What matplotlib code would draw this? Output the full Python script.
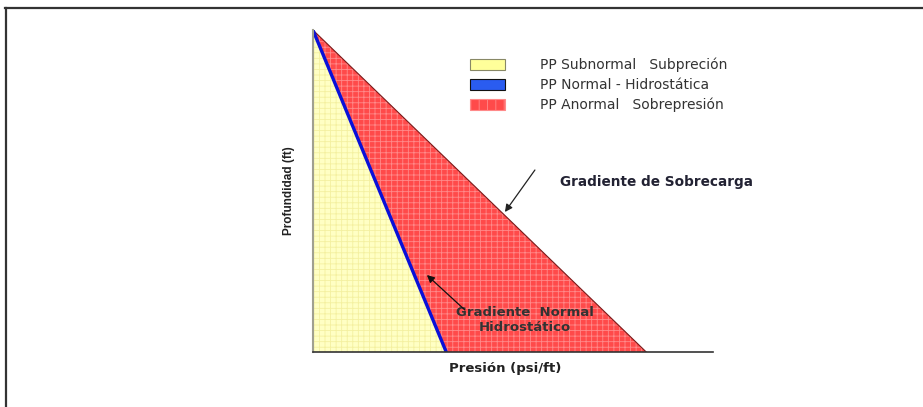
import numpy as np
import matplotlib.pyplot as plt
from matplotlib.patches import Patch
from matplotlib.lines import Line2D

plt.rcParams['font.family'] = ['DejaVu Sans']
plt.rcParams['hatch.linewidth'] = 0.6

# datos: profundidad (ft) y gradientes (psi/ft)
profundidad = np.array([0, 10000])
grad_hidrostatico = 0.40
grad_sobrecarga = 1.0
presion_max = 12000

p_hidro = profundidad * grad_hidrostatico
p_sobre = profundidad * grad_sobrecarga

leyenda = ['PP Subnormal   Subpreción', 'PP Normal - Hidrostática', 'PP Anormal   Sobrepresión']

fig = plt.figure(figsize=(9.23, 4.07), dpi=100)
ax = fig.add_axes([0.339, 0.1351, 0.4334, 0.7912])

# zona subnormal (amarilla)
ax.fill_betweenx(profundidad, 0, p_hidro, facecolor='#ffffc4', edgecolor='#f4f0a0',
                 hatch='+++', linewidth=0)
# zona anormal (roja)
ax.fill_betweenx(profundidad, p_hidro, p_sobre, facecolor='#ff4a4a', edgecolor='#ff8a8a',
                 hatch='+++', linewidth=0)
ax.plot(p_sobre, profundidad, color='#7a1a1a', lw=0.8)
ax.plot(p_hidro, profundidad, color='#0a10d8', lw=2.4, solid_capstyle='round')

ax.set_xlim(0, presion_max)
ax.set_ylim(profundidad[-1], 0)
ax.set_xticks([])
ax.set_yticks([])
for s in ['top', 'right']:
    ax.spines[s].set_visible(False)
ax.spines['left'].set_color('#a0a090')
ax.spines['left'].set_linewidth(1.5)
ax.spines['bottom'].set_color('#333333')
ax.spines['bottom'].set_linewidth(1.2)

ax.set_xlabel('Presión (psi/ft)', fontsize=9.5, fontweight='bold', color='#222222')
ax.xaxis.set_label_coords(0.48, -0.03, transform=ax.transAxes)
ax.xaxis.label.set_va('top')
ax.set_ylabel('Profundidad (ft)', fontsize=8.5, fontweight='bold', color='#222222',
              family='Liberation Sans')
ax.yaxis.set_label_coords(-0.045, 0.5)

handles = [Patch(facecolor='#ffff9a', edgecolor='#888866', lw=0.8),
           Patch(facecolor='#2a5cf0', edgecolor='#111111', lw=0.8),
           Patch(facecolor='#ff4a4a', edgecolor='#ff8a8a', hatch='||', lw=0.8)]
ax.legend(handles, leyenda, loc='upper left', bbox_to_anchor=(0.376, 0.935), frameon=False,
          fontsize=10, handlelength=2.5, handleheight=0.85, handletextpad=2.5,
          labelspacing=0.4, borderpad=0, labelcolor='#333333')

ax.text(7410, 4720, 'Gradiente de Sobrecarga', fontsize=9.8, fontweight='bold',
        color='#222233', va='center')
ax.annotate('', xy=(5760, 5652), xytext=(6660, 4348),
            arrowprops=dict(arrowstyle='-|>', color='#222222', lw=0.9,
                            shrinkA=0, shrinkB=0, mutation_scale=11))
ax.text(6360, 9006, 'Gradiente  Normal\nHidrostático', fontsize=9.5, fontweight='bold',
        color='#333333', ha='center', va='center', linespacing=1.15)
ax.annotate('', xy=(3420, 7609), xytext=(4560, 8696),
            arrowprops=dict(arrowstyle='-|>', color='#111111', lw=0.9,
                            shrinkA=0, shrinkB=0, mutation_scale=11))

# marco de la figura
fig.add_artist(Line2D([0.005, 1.0], [0.98, 0.98], transform=fig.transFigure,
                      color='#333333', lw=1.6))
fig.add_artist(Line2D([0.006, 0.006], [0.0, 0.98], transform=fig.transFigure,
                      color='#333333', lw=1.6))

fig.savefig('out.png', dpi=100, facecolor='white')
